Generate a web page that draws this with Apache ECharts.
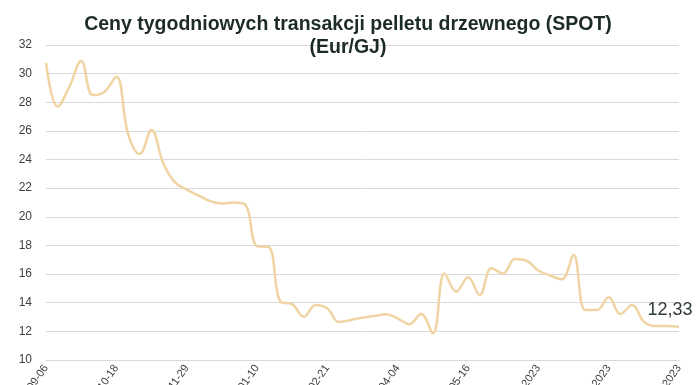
<!DOCTYPE html>
<html>
<head>
<meta charset="utf-8">
<script src="https://cdn.jsdelivr.net/npm/echarts@6/dist/echarts.min.js"></script>
<style>html,body{margin:0;padding:0;background:#fff}#c{width:696px;height:385px}</style>
</head>
<body>
<div id="c"></div>
<script>
var titleText = 'Ceny tygodniowych transakcji pelletu drzewnego (SPOT)\n(Eur/GJ)';
var labelDates = ['2022-09-06','2022-10-18','2022-11-29','2023-01-10','2023-02-21','2023-04-04','2023-05-16','27.06.2023','08.08.2023','19.09.2023'];
var prices = [30.76,27.7,29.1,30.88,28.5,28.74,29.78,25.8,24.39,26.06,
  23.74,22.4,21.9,21.5,21.1,20.93,21.0,20.85,17.96,17.9,
  14.07,13.9,13.02,13.84,13.6,12.65,12.8,12.95,13.07,13.2,
  12.9,12.5,13.21,11.86,16.05,14.77,15.78,14.54,16.4,16.05,
  17.05,16.93,16.25,15.9,15.64,17.33,13.49,13.49,14.38,13.21,
  13.84,12.68,12.37,12.37,12.33];
var yTicks = {min: 10, max: 32, interval: 2};

// weekly categories; every 6th week carries a tick label
var categories = prices.map(function (v, i) {
  var k = i / 6;
  return (i % 6 === 0 && labelDates[k]) ? labelDates[k] : ('w' + i);
});

var chart = echarts.init(document.getElementById('c'));
chart.setOption({
  animation: false,
  title: {
    text: titleText,
    left: 'center',
    top: 8,
    textStyle: {fontFamily: 'Liberation Sans, Arial, sans-serif', fontSize: 19.5, fontWeight: 'bold', color: '#1c2b23', lineHeight: 23}
  },
  grid: {left: 46, right: 17, top: 45, bottom: 25, containLabel: false, outerBoundsMode: 'none'},
  xAxis: {
    type: 'category',
    data: categories,
    boundaryGap: false,
    axisLine: {show: true, lineStyle: {color: '#d9d9d9', width: 1}},
    axisTick: {show: false},
    axisLabel: {
      interval: 5,
      rotate: 55,
      margin: 6,
      fontSize: 11,
      color: '#404040',
      fontFamily: 'Liberation Sans, Arial, sans-serif'
    },
    splitLine: {show: false}
  },
  yAxis: {
    type: 'value',
    min: yTicks.min,
    max: yTicks.max,
    interval: yTicks.interval,
    axisLine: {show: false},
    axisTick: {show: false},
    axisLabel: {fontSize: 12, color: '#404040', margin: 14, fontFamily: 'Liberation Sans, Arial, sans-serif'},
    splitLine: {lineStyle: {color: '#d9d9d9', width: 1}}
  },
  series: [{
    type: 'line',
    data: prices.map(function (v, i) {
      if (i === prices.length - 1) {
        return {value: v, label: {show: true}};
      }
      return v;
    }),
    smooth: 0.4,
    symbol: 'circle',
    symbolSize: 1,
    showSymbol: true,
    showAllSymbol: true,
    itemStyle: {color: 'rgba(0,0,0,0)'},
    lineStyle: {color: '#f0d4a3', width: 2.5},
    label: {
      show: false,
      position: 'top',
      offset: [-9, -2],
      fontSize: 18,
      color: '#2f3b36',
      fontFamily: 'Liberation Sans, Arial, sans-serif',
      formatter: function (p) { return String(p.value).replace('.', ','); }
    }
  }]
});
</script>
</body>
</html>
